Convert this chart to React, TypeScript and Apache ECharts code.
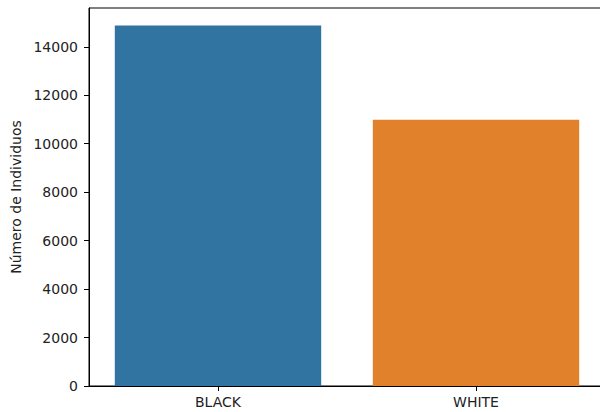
import React, { useEffect, useRef } from "react";
import * as echarts from "echarts";

const categories = ["BLACK", "WHITE"];
const counts = [14880, 10990];
const barColors = ["#3274a1", "#e1812c"];
const yTicksMax = 15600;

export default function App() {
  const ref = useRef<HTMLDivElement>(null);
  useEffect(() => {
    if (!ref.current) return;
    const chart = echarts.init(ref.current, undefined, { renderer: "svg" });
    const font = "DejaVu Sans";
    chart.setOption({
      animation: false,
      grid: {
        left: 89,
        top: 8,
        right: 1,
        bottom: 26,
        show: true,
        borderColor: "#000",
        borderWidth: 1,
        backgroundColor: "transparent",
      },
      xAxis: {
        type: "category",
        data: categories,
        axisLine: { show: true, lineStyle: { color: "#000", width: 1 } },
        axisTick: { show: true, alignWithLabel: true, length: 5, lineStyle: { color: "#000" } },
        axisLabel: { color: "#222", fontFamily: font, fontSize: 14, margin: 9 },
        splitLine: { show: false },
      },
      yAxis: {
        type: "value",
        min: 0,
        max: yTicksMax,
        interval: 2000,
        name: "Número de Individuos",
        nameLocation: "middle",
        nameGap: 64,
        nameTextStyle: { color: "#222", fontFamily: font, fontSize: 14 },
        axisLine: { show: true, lineStyle: { color: "#000", width: 1 } },
        axisTick: { show: true, length: 5, lineStyle: { color: "#000" } },
        axisLabel: {
          color: "#222",
          fontFamily: font,
          fontSize: 14,
          margin: 11,
          showMaxLabel: false,
          formatter: (v: number) => String(v),
        },
        splitLine: { show: false },
      },
      series: [
        {
          type: "bar",
          data: counts.map((v, i) => ({ value: v, itemStyle: { color: barColors[i] } })),
          barWidth: "80%",
        },
      ],
    });
    return () => chart.dispose();
  }, []);
  return (
    <div style={{ position: "absolute", left: 0, top: 0, width: 600, height: 412, overflow: "hidden" }}>
      <div ref={ref} style={{ width: 606, height: 412 }} />
    </div>
  );
}
